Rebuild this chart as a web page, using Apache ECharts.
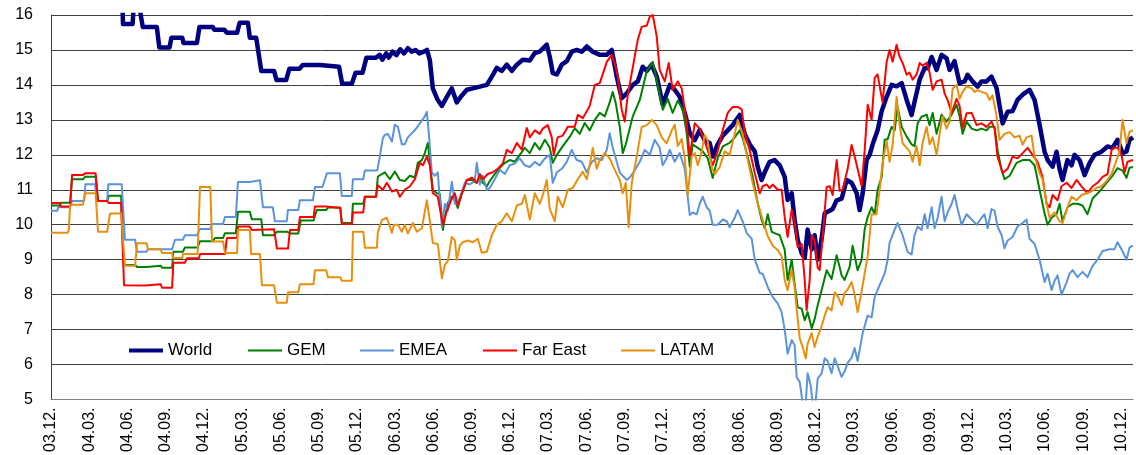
<!DOCTYPE html>
<html>
<head>
<meta http-equiv="content-type" content="text/html; charset=utf-8"/>
<title>World / GEM / EMEA / Far East / LATAM</title>
<style type="text/css">body,html{width:100%;height:100%;margin:0;background:#fff}#chart{width:1136px;height:455px}</style>
<script src="https://cdn.jsdelivr.net/npm/echarts@6/dist/echarts.min.js"></script>
<script>
	// x = months since Dec 2003, one tick label per quarter
	var tickLabels = ['03.12.','04.03.','04.06.','04.09.','04.12.','05.03.','05.06.','05.09.','05.12.',
		'06.03.','06.06.','06.09.','06.12.','07.03.','07.06.','07.09.','07.12.','08.03.','08.06.',
		'08.09.','08.12.','09.03.','09.06.','09.09.','09.12.','10.03.','10.06.','10.09.','10.12.'];

	var world = [[0,16.4],[5.6,16.4],[5.65,15.74],[6.4,15.74],[6.5,16.3],[6.9,16.3],[7.2,15.66],[8.3,15.66],[8.5,15.07],[9.3,15.07],
		[9.45,15.35],[10.3,15.35],[10.4,15.2],[11.45,15.2],[11.65,15.66],[12.7,15.66],[12.8,15.58],[13.6,15.58],[13.8,15.49],[14.6,15.49],
		[14.8,15.78],[15.45,15.78],[15.6,15.35],[16.1,15.35],[16.5,14.4],[17.5,14.4],[17.7,14.14],[18.45,14.14],[18.7,14.46],[19.5,14.46],
		[19.75,14.57],[21.1,14.57],[21.2,14.52],[22.6,14.52],[22.85,14.03],[23.6,14.03],[23.9,14.35],[24.45,14.35],[24.75,14.78],[25.5,14.78],
		[25.8,14.86],[26.0,14.72],[26.3,14.9],[26.5,14.78],[26.8,14.95],[27.1,14.85],[27.4,15.02],[27.7,14.9],[28.0,15.05],[28.3,14.95],
		[28.6,15.0],[28.9,14.9],[29.3,14.96],[29.5,15.0],[29.73,14.7],[29.96,13.9],[30.3,13.6],[30.67,13.4],[31.06,13.66],[31.45,13.9],
		[31.84,13.5],[32.24,13.7],[32.63,13.86],[33.1,13.9],[33.65,13.95],[34.2,14.0],[34.59,14.24],[34.98,14.49],[35.37,14.4],[35.76,14.58],
		[36.16,14.4],[36.55,14.58],[37.02,14.72],[37.57,14.7],[37.96,14.91],[38.35,14.95],[38.9,15.15],[39.14,14.8],[39.37,14.34],[39.69,14.3],
		[40.08,14.58],[40.47,14.68],[40.86,14.95],[41.25,15.0],[41.65,14.95],[42.04,15.1],[42.51,14.95],[43.06,14.86],[43.61,14.86],[44.0,15.0],
		[44.39,14.24],[44.78,13.62],[45.18,13.76],[45.65,14.0],[46.04,14.1],[46.43,14.52],[46.75,14.4],[47.14,14.58],[47.53,14.24],[48.0,13.43],
		[48.55,14.0],[48.94,13.86],[49.33,13.66],[49.73,13.2],[50.12,12.62],[50.51,12.42],[50.9,12.71],[51.29,12.42],[51.69,12.33],[51.92,11.95],
		[52.31,12.3],[52.71,12.55],[53.1,12.7],[53.49,12.85],[54.04,13.14],[54.43,12.6],[54.82,12.3],[55.22,12.1],[55.45,11.66],[55.76,11.28],
		[56.0,11.5],[56.39,11.8],[56.78,11.85],[57.18,11.7],[57.57,11.37],[57.8,10.71],[58.12,10.9],[58.35,10.14],[58.59,9.57],[58.9,9.19],
		[59.14,9.05],[59.37,9.86],[59.69,9.3],[59.92,9.7],[60.16,9.0],[60.47,9.6],[60.71,10.33],[61.1,10.4],[61.33,10.45],[61.65,10.7],
		[62.04,10.75],[62.43,11.28],[62.82,11.2],[63.22,10.9],[63.45,10.42],[63.69,10.9],[64.0,11.86],[64.24,12.0],[64.47,12.3],[64.86,12.7],
		[65.18,13.25],[65.57,13.66],[65.96,14.0],[66.35,13.96],[66.75,14.05],[67.14,13.57],[67.53,13.14],[67.76,13.52],[68.16,14.15],[68.55,14.48],
		[68.78,14.48],[69.1,14.8],[69.49,14.43],[69.88,14.86],[70.27,14.76],[70.51,14.43],[70.9,14.68],[71.29,14.05],[71.69,14.1],[71.92,14.29],
		[72.31,14.1],[72.71,13.95],[73.02,14.1],[73.41,14.1],[73.8,14.24],[74.2,13.9],[74.67,12.9],[75.06,13.23],[75.45,13.25],[75.84,13.57],
		[76.24,13.72],[76.55,13.8],[76.78,13.86],[77.18,13.57],[77.57,12.86],[77.96,12.09],[78.2,11.85],[78.59,11.66],[78.9,12.09],[79.14,11.6],
		[79.37,11.28],[79.76,11.85],[80.08,11.7],[80.31,12.0],[80.71,11.85],[81.1,11.42],[81.49,11.76],[81.88,12.0],[82.43,12.09],[82.9,12.24],
		[83.29,12.2],[83.69,12.43],[84.08,12.05],[84.39,12.1],[84.63,12.43],[84.9,12.5]];

	var gem = [[0,10.55],[0.7,10.55],[0.75,10.63],[1.5,10.63],[1.65,11.3],[2.5,11.3],[2.67,11.37],[3.5,11.37],[3.69,10.68],[4.4,10.68],
		[4.55,10.83],[5.5,10.83],[5.7,8.85],[6.6,8.85],[6.75,8.79],[7.5,8.79],[7.6,8.83],[8.6,8.83],[8.71,8.77],[9.5,8.77],
		[9.6,9.23],[10.35,9.23],[10.51,9.35],[11.5,9.35],[11.69,9.53],[12.7,9.53],[12.86,9.62],[13.5,9.62],[13.65,9.76],[14.5,9.76],
		[14.67,10.37],[15.6,10.37],[15.76,10.16],[16.5,10.16],[16.63,9.7],[17.5,9.7],[17.73,9.8],[18.5,9.8],[18.75,9.75],[19.4,9.75],
		[19.6,10.12],[20.6,10.12],[20.86,10.42],[21.6,10.42],[21.73,10.49],[22.7,10.49],[22.82,10.05],[23.6,10.05],[23.69,10.6],[24.5,10.6],
		[24.63,10.8],[25.5,10.8],[25.65,11.38],[26.2,11.5],[26.59,11.3],[26.98,11.52],[27.37,11.28],[27.76,11.25],[28.16,11.4],[28.55,11.35],
		[28.78,11.77],[29.1,11.85],[29.33,12.05],[29.57,12.34],[29.73,11.8],[29.96,11.0],[30.27,10.9],[30.51,10.88],[30.75,9.85],[30.9,10.2],
		[31.14,10.62],[31.45,10.8],[31.69,10.7],[31.92,10.48],[32.24,10.9],[32.63,11.28],[33.02,11.28],[33.41,11.2],[33.65,11.35],[33.88,11.2],
		[34.2,11.1],[34.43,11.25],[34.82,11.45],[35.22,11.63],[35.61,11.77],[36.0,11.85],[36.39,11.8],[36.78,12.0],[37.18,12.2],[37.57,12.05],
		[37.96,12.34],[38.35,12.15],[38.75,12.43],[39.14,12.2],[39.37,11.77],[39.69,12.0],[40.16,12.25],[40.71,12.52],[41.1,12.76],[41.49,12.6],
		[41.88,12.91],[42.27,12.7],[42.67,13.0],[43.06,13.2],[43.45,13.1],[43.84,13.5],[44.08,13.8],[44.3,13.5],[44.63,12.8],[44.86,12.05],
		[45.1,12.3],[45.65,13.1],[46.2,13.57],[46.75,14.4],[47.22,14.66],[47.61,14.0],[48.0,13.29],[48.39,13.6],[48.78,13.2],[49.18,13.55],
		[49.57,13.3],[49.88,12.62],[50.12,11.66],[50.35,12.3],[50.75,12.2],[51.14,12.1],[51.53,11.9],[51.92,11.34],[52.31,11.9],[52.71,12.24],
		[53.25,12.34],[53.65,12.5],[54.04,12.7],[54.27,12.48],[54.67,11.94],[55.06,11.37],[55.45,10.62],[55.76,10.14],[56.0,9.9],[56.24,10.3],
		[56.55,9.8],[56.78,9.76],[57.18,9.7],[57.57,9.28],[57.8,8.42],[58.12,9.0],[58.35,8.3],[58.59,7.64],[58.9,7.6],[59.14,7.27],
		[59.37,7.5],[59.69,7.04],[59.92,7.3],[60.16,7.7],[60.47,8.13],[60.86,8.7],[61.25,8.45],[61.65,9.13],[62.04,8.55],[62.27,8.42],
		[62.67,8.8],[62.9,9.4],[63.29,8.7],[63.61,9.0],[63.84,9.86],[64.08,10.22],[64.39,10.5],[64.63,10.3],[64.86,11.0],[65.18,11.37],
		[65.41,12.43],[65.65,12.45],[65.96,12.8],[66.2,12.7],[66.43,13.37],[66.75,12.8],[67.14,12.52],[67.53,12.3],[67.76,12.25],[68.0,12.9],
		[68.31,13.09],[68.71,13.15],[68.94,12.85],[69.18,13.2],[69.49,12.6],[69.88,13.15],[70.27,12.95],[70.67,13.15],[71.06,13.43],[71.29,13.1],
		[71.53,12.6],[71.84,12.95],[72.24,12.75],[72.63,12.7],[73.02,12.75],[73.41,12.7],[73.65,12.8],[74.04,12.8],[74.27,12.14],[74.59,11.57],
		[74.82,11.3],[75.22,11.4],[75.76,11.77],[76.24,11.85],[76.78,11.85],[77.18,11.7],[77.57,11.0],[77.96,10.33],[78.2,10.0],[78.51,10.2],
		[78.9,10.3],[79.14,10.6],[79.37,10.1],[79.76,10.5],[80.16,10.6],[80.55,10.6],[80.94,10.55],[81.33,10.3],[81.73,10.75],[82.27,10.95],
		[82.82,11.2],[83.29,11.4],[83.69,11.62],[84.08,11.55],[84.39,11.34],[84.63,11.63],[84.9,11.65]];

	var emea = [[0,10.4],[0.5,10.4],[0.55,10.5],[1.5,10.5],[1.65,10.68],[2.6,10.68],[2.7,11.16],[3.45,11.16],[3.6,10.68],[4.4,10.68],
		[4.5,11.16],[5.55,11.16],[5.8,9.57],[6.6,9.57],[6.75,9.23],[7.5,9.23],[7.6,9.3],[9.5,9.3],[9.73,9.57],[10.35,9.57],
		[10.51,9.7],[11.45,9.7],[11.69,9.88],[12.5,9.88],[12.63,10.02],[13.5,10.02],[13.65,10.22],[14.5,10.22],[14.67,11.22],[15.6,11.22],
		[15.7,11.27],[16.4,11.27],[16.63,10.5],[17.4,10.5],[17.57,10.1],[18.5,10.1],[18.59,10.42],[19.4,10.42],[19.53,10.7],[20.55,10.7],
		[20.71,11.08],[21.3,11.08],[21.65,11.47],[22.67,11.47],[22.82,10.82],[23.6,10.82],[23.69,11.3],[24.5,11.3],[24.63,11.55],[25.6,11.55],
		[25.8,11.95],[26.04,12.48],[26.2,12.57],[26.43,12.6],[26.75,12.38],[26.98,12.86],[27.22,12.8],[27.53,12.3],[27.76,12.3],[28.0,12.5],
		[28.31,12.62],[28.55,12.7],[28.94,12.9],[29.33,13.1],[29.49,13.23],[29.65,12.6],[29.88,11.5],[30.12,11.4],[30.35,11.5],[30.67,9.93],
		[30.9,10.6],[31.14,10.4],[31.45,11.23],[31.69,10.6],[31.92,10.6],[32.24,10.95],[32.47,11.2],[32.86,11.15],[33.25,11.25],[33.41,11.77],
		[33.65,11.15],[33.88,11.4],[34.2,11.0],[34.43,11.05],[34.82,11.3],[35.22,11.57],[35.61,11.45],[36.0,11.7],[36.39,11.75],[36.78,11.9],
		[37.18,11.7],[37.57,11.65],[37.96,11.8],[38.35,11.7],[38.75,11.9],[39.14,12.0],[39.37,11.2],[39.69,11.5],[40.08,11.6],[40.47,11.8],
		[40.86,12.14],[41.25,11.85],[41.65,11.8],[42.04,11.5],[42.43,11.8],[42.82,11.9],[43.22,11.85],[43.61,12.14],[43.84,12.62],[44.08,12.2],
		[44.39,11.8],[44.63,11.5],[44.86,11.4],[45.18,11.28],[45.41,11.35],[45.8,11.55],[46.2,11.8],[46.59,12.14],[46.98,12.0],[47.37,12.43],
		[47.76,12.2],[48.0,11.7],[48.31,11.9],[48.55,12.14],[48.94,11.8],[49.33,12.05],[49.73,11.6],[49.96,10.8],[50.12,10.28],[50.35,10.35],
		[50.67,10.3],[50.9,10.6],[51.14,10.8],[51.45,10.5],[51.69,10.4],[51.92,10.0],[52.31,10.0],[52.71,10.15],[53.02,10.1],[53.25,9.93],
		[53.65,10.2],[53.88,10.42],[54.27,10.1],[54.59,9.76],[54.98,9.6],[55.22,9.0],[55.61,8.62],[55.84,8.6],[56.24,8.22],[56.63,7.93],
		[57.02,7.75],[57.33,7.5],[57.57,7.0],[57.8,6.31],[58.12,6.7],[58.35,6.55],[58.51,5.64],[58.75,5.5],[58.98,4.9],[59.22,4.9],
		[59.37,5.75],[59.61,5.4],[59.76,4.9],[60.0,4.95],[60.16,5.6],[60.47,5.75],[60.71,6.18],[60.94,6.1],[61.25,5.75],[61.49,6.18],
		[61.73,5.95],[62.04,5.65],[62.27,5.8],[62.51,6.05],[62.82,6.2],[63.06,6.47],[63.29,6.1],[63.69,6.9],[64.08,7.4],[64.39,7.35],
		[64.63,7.93],[65.02,8.27],[65.41,8.6],[65.65,9.0],[65.8,9.48],[66.2,9.86],[66.43,10.05],[66.82,9.7],[67.22,9.22],[67.53,9.15],
		[67.76,9.7],[68.0,9.95],[68.31,9.85],[68.55,10.3],[68.78,9.9],[69.1,10.5],[69.33,9.9],[69.57,10.2],[69.88,10.8],[70.12,10.1],
		[70.35,10.35],[70.67,10.6],[70.9,10.85],[71.14,10.45],[71.45,10.0],[71.84,10.3],[72.24,10.15],[72.63,10.0],[73.02,10.2],[73.25,10.3],
		[73.49,9.9],[73.8,10.45],[74.04,10.4],[74.27,9.95],[74.59,9.7],[74.82,9.33],[75.06,9.55],[75.45,9.65],[75.84,9.95],[76.24,10.05],
		[76.55,10.15],[76.78,9.6],[77.18,9.45],[77.57,9.0],[77.96,8.36],[78.2,8.6],[78.51,8.13],[78.75,8.4],[78.98,8.55],[79.29,8.0],
		[79.69,8.35],[79.92,8.6],[80.16,8.7],[80.55,8.5],[80.94,8.65],[81.33,8.5],[81.73,8.82],[82.12,9.0],[82.51,9.25],[83.06,9.3],
		[83.45,9.3],[83.69,9.5],[84.0,9.3],[84.39,9.0],[84.63,9.35],[84.9,9.4]];

	var farEast = [[0,10.62],[0.7,10.62],[0.75,10.52],[1.5,10.52],[1.65,11.42],[2.5,11.42],[2.67,11.47],[3.5,11.47],[3.69,10.68],[4.4,10.68],
		[4.55,10.62],[5.5,10.62],[5.73,8.27],[7.4,8.26],[7.55,8.3],[8.6,8.3],[8.71,8.2],[9.5,8.2],[9.6,8.91],[10.5,8.91],
		[10.67,9.04],[11.6,9.04],[11.7,9.16],[13.65,9.16],[13.8,9.62],[14.6,9.62],[14.67,9.95],[15.6,9.95],[15.76,9.85],[17.5,9.87],
		[17.73,9.32],[18.6,9.32],[18.75,9.85],[19.4,9.85],[19.53,10.22],[20.6,10.22],[20.71,10.52],[21.6,10.52],[21.73,10.48],[22.7,10.48],
		[22.82,10.02],[23.6,10.02],[23.69,10.35],[24.5,10.35],[24.63,10.8],[25.5,10.8],[25.65,11.13],[26.04,11.0],[26.35,11.2],[26.75,10.95],
		[27.14,11.0],[27.37,10.8],[27.76,11.0],[28.16,11.1],[28.55,11.3],[28.94,11.77],[29.18,11.7],[29.49,11.95],[29.73,11.7],[29.96,10.9],
		[30.35,10.8],[30.75,10.0],[31.06,10.4],[31.45,10.75],[31.69,10.9],[31.92,10.55],[32.24,10.9],[32.63,11.28],[33.02,11.35],[33.41,11.2],
		[33.65,11.45],[33.88,11.3],[34.27,11.45],[34.67,11.5],[35.06,11.6],[35.45,11.75],[35.76,12.14],[36.16,12.05],[36.55,12.34],[36.94,12.15],
		[37.33,12.77],[37.57,12.5],[37.96,12.7],[38.35,12.6],[38.59,12.75],[38.98,12.85],[39.29,12.5],[39.45,12.0],[39.76,12.5],[40.16,12.55],
		[40.55,12.8],[41.1,12.8],[41.33,13.14],[41.73,13.05],[42.27,13.4],[42.67,14.0],[43.06,14.05],[43.61,14.66],[44.0,14.86],[44.24,14.6],
		[44.47,14.24],[44.78,13.29],[45.02,12.95],[45.25,13.7],[45.65,14.5],[46.04,15.29],[46.35,15.66],[46.75,15.7],[46.98,15.95],[47.22,16.0],
		[47.53,15.38],[47.76,14.43],[48.16,14.1],[48.47,14.63],[48.78,13.86],[49.18,14.1],[49.49,13.9],[49.88,12.9],[50.12,11.95],[50.51,12.9],
		[50.9,12.75],[51.29,12.4],[51.69,11.95],[51.92,11.7],[52.31,12.1],[52.71,12.71],[53.1,13.2],[53.49,13.37],[53.88,13.37],[54.2,13.3],
		[54.43,12.62],[54.82,12.14],[55.22,11.48],[55.61,10.9],[55.84,11.1],[56.16,11.15],[56.39,11.05],[56.63,11.15],[57.02,11.0],[57.33,11.0],
		[57.57,10.22],[57.8,9.65],[58.12,10.43],[58.35,10.1],[58.59,9.36],[58.9,9.45],[59.14,8.42],[59.29,7.56],[59.53,8.42],[59.69,9.7],
		[59.92,9.55],[60.16,8.77],[60.31,8.7],[60.55,9.65],[60.86,11.08],[61.1,11.1],[61.33,10.85],[61.65,11.85],[61.88,10.97],[62.12,11.0],
		[62.51,11.6],[62.82,12.28],[63.06,11.95],[63.29,11.6],[63.61,11.1],[63.84,12.1],[64.08,13.43],[64.39,13.0],[64.63,14.2],[64.86,14.3],
		[65.25,13.5],[65.57,14.66],[65.8,15.0],[66.04,14.66],[66.35,15.15],[66.59,14.8],[66.82,14.63],[67.14,14.29],[67.37,14.35],[67.61,14.15],
		[67.92,14.3],[68.16,14.63],[68.39,14.55],[68.71,14.63],[68.94,14.35],[69.18,13.86],[69.49,14.1],[69.88,14.15],[70.12,13.75],[70.35,13.57],
		[70.67,13.2],[71.06,13.6],[71.29,13.4],[71.53,12.77],[71.84,13.19],[72.24,13.2],[72.63,12.85],[73.02,12.9],[73.41,12.8],[73.8,12.95],
		[74.04,12.75],[74.27,11.95],[74.67,11.48],[75.06,11.6],[75.45,11.95],[75.84,11.9],[76.24,12.05],[76.63,12.2],[77.02,12.0],[77.41,11.8],
		[77.8,11.37],[78.12,10.6],[78.35,10.5],[78.59,10.85],[78.98,10.7],[79.29,11.1],[79.69,11.2],[80.08,11.05],[80.47,11.28],[80.86,11.1],
		[81.33,10.9],[81.73,11.1],[82.12,11.2],[82.51,11.37],[82.9,11.45],[83.22,12.14],[83.45,12.2],[83.69,12.2],[84.0,12.0],[84.24,11.5],
		[84.47,11.8],[84.9,11.85]];

	var latam = [[0,9.77],[1.3,9.77],[1.4,9.85],[1.5,10.57],[2.5,10.57],[2.67,10.9],[3.5,10.9],[3.69,9.8],[4.4,9.8],[4.63,10.32],
		[5.5,10.32],[5.8,8.83],[6.6,8.83],[6.75,9.47],[7.5,9.47],[7.61,9.3],[8.6,9.3],[8.71,9.19],[9.5,9.19],[9.57,9.05],
		[10.3,9.05],[10.35,9.16],[11.5,9.16],[11.69,11.08],[12.5,11.08],[12.63,9.52],[13.5,9.52],[13.65,9.19],[14.6,9.19],[14.67,9.85],
		[15.6,9.85],[15.7,9.16],[16.4,9.16],[16.55,8.27],[17.5,8.27],[17.73,7.77],[18.5,7.77],[18.6,8.07],[19.4,8.07],[19.53,8.3],
		[20.6,8.3],[20.71,8.7],[21.6,8.7],[21.73,8.5],[22.7,8.5],[22.82,8.4],[23.6,8.4],[23.69,9.8],[24.5,9.8],[24.63,9.34],
		[25.57,9.34],[25.65,9.8],[25.96,10.13],[26.35,10.2],[26.59,9.95],[26.75,9.77],[26.9,10.0],[27.22,10.0],[27.53,9.8],[27.76,10.0],
		[28.0,9.75],[28.39,10.05],[28.71,9.8],[29.1,9.9],[29.49,10.7],[29.73,10.1],[29.96,9.48],[30.35,9.45],[30.67,8.47],[30.9,8.85],
		[31.14,8.96],[31.45,9.65],[31.69,9.55],[31.84,9.0],[32.08,9.4],[32.31,9.5],[32.71,9.55],[33.1,9.5],[33.49,9.6],[33.8,9.2],
		[34.2,9.23],[34.59,9.7],[34.98,10.0],[35.37,10.1],[35.76,10.33],[36.16,10.1],[36.55,10.55],[36.94,10.6],[37.18,10.85],[37.57,10.15],
		[37.96,10.9],[38.35,10.6],[38.59,10.85],[38.9,11.28],[39.14,10.45],[39.53,10.1],[39.76,10.8],[40.16,10.5],[40.55,11.0],[40.94,11.05],
		[41.33,11.3],[41.73,11.52],[42.04,11.3],[42.27,11.72],[42.51,12.2],[42.82,11.6],[43.06,11.85],[43.45,12.05],[43.84,11.9],[44.24,11.57],
		[44.63,11.28],[44.86,10.9],[45.1,11.2],[45.33,9.93],[45.57,11.2],[45.96,11.95],[46.35,12.8],[46.75,12.85],[47.14,13.0],[47.53,12.85],
		[47.92,12.5],[48.31,12.33],[48.71,12.7],[48.94,12.86],[49.18,12.25],[49.49,12.45],[49.73,11.9],[49.96,10.85],[50.27,11.95],[50.51,12.05],
		[50.75,11.7],[51.06,12.1],[51.29,12.57],[51.53,12.4],[51.84,11.65],[52.08,11.45],[52.47,11.65],[52.86,12.1],[53.25,12.0],[53.65,12.6],
		[53.88,13.0],[54.27,12.6],[54.67,11.86],[55.06,11.19],[55.45,10.62],[55.84,10.14],[56.24,9.67],[56.63,9.4],[57.02,9.28],[57.33,9.1],
		[57.57,8.42],[57.8,8.13],[58.12,8.7],[58.35,8.2],[58.51,7.6],[58.75,6.75],[58.98,6.5],[59.22,6.18],[59.37,6.6],[59.69,6.9],
		[59.92,6.5],[60.16,6.8],[60.47,7.1],[60.71,7.4],[60.94,7.64],[61.25,7.55],[61.49,8.07],[61.73,7.95],[62.04,7.7],[62.27,8.05],
		[62.51,8.15],[62.82,8.36],[63.06,8.0],[63.29,7.5],[63.61,8.1],[63.84,8.6],[64.08,9.1],[64.39,10.3],[64.78,10.3],[65.02,11.0],
		[65.25,11.77],[65.57,12.4],[65.8,11.8],[66.04,12.3],[66.35,13.66],[66.59,12.85],[66.82,12.33],[67.14,12.2],[67.37,12.1],[67.61,11.8],
		[67.92,12.25],[68.16,11.7],[68.39,12.35],[68.71,12.8],[68.94,12.3],[69.18,12.5],[69.49,12.0],[69.73,12.6],[69.96,13.1],[70.27,12.75],
		[70.51,12.95],[70.75,13.9],[71.06,14.0],[71.29,13.6],[71.53,13.8],[71.84,13.96],[72.24,13.9],[72.47,13.8],[72.71,13.85],[73.02,13.8],
		[73.41,13.75],[73.65,13.57],[73.88,13.7],[74.2,13.1],[74.43,12.43],[74.82,12.6],[75.22,12.65],[75.61,12.5],[76.0,12.55],[76.24,12.29],
		[76.55,12.5],[76.94,12.55],[77.18,11.95],[77.57,11.48],[77.8,11.3],[78.12,10.6],[78.35,10.2],[78.75,10.35],[79.14,10.1],[79.37,10.05],
		[79.76,10.5],[80.08,10.8],[80.47,10.7],[80.86,10.85],[81.25,10.9],[81.65,10.95],[82.04,11.05],[82.43,11.1],[82.82,11.25],[83.22,11.45],
		[83.61,11.85],[83.84,12.1],[84.08,13.0],[84.39,12.33],[84.63,12.66],[84.9,12.7]];

	var seriesNames = ['World', 'GEM', 'EMEA', 'Far East', 'LATAM'];
	var seriesData = [world, gem, emea, farEast, latam];
	var seriesColors = ['#000080', '#008000', '#5B94DA', '#FF0000', '#E8900E'];
	var seriesWidths = [4.5, 2, 2, 2, 2];
	var legendLeft = [129, 248, 360, 483, 621];

	function onLoad()
	{
		var chart = echarts.init(document.getElementById('chart'), null, {renderer: 'canvas'});
		var font = 'Liberation Sans';
		var series = [];
		var legends = [];
		for (var i = 0; i < seriesNames.length; i++) {
			series.push({
				name: seriesNames[i],
				type: 'line',
				data: seriesData[i],
				symbol: 'none',
				clip: true,
				lineStyle: {color: seriesColors[i], width: seriesWidths[i], join: 'round'},
				itemStyle: {color: seriesColors[i]}
			});
			//one legend per item so each sits where it does in the original, icon drawn as a flat bar
			legends.push({
				data: [seriesNames[i]],
				left: legendLeft[i],
				top: 342,
				padding: 0,
				icon: 'rect',
				itemWidth: 34,
				itemHeight: seriesWidths[i] === 2 ? 2 : 4,
				itemGap: 0,
				textStyle: {fontFamily: font, fontSize: 17, color: '#000'}
			});
		}
		var option = {
			animation: false,
			backgroundColor: '#fff',
			grid: {left: 51, right: 3, top: 15, bottom: 55},
			legend: legends,
			xAxis: {
				type: 'value',
				min: 0,
				max: 84.9,
				interval: 3,
				axisLine: {show: true, onZero: false, lineStyle: {color: '#808080', width: 1}},
				axisTick: {show: false},
				splitLine: {show: false},
				axisLabel: {
					rotate: 90,
					margin: 8,
					fontFamily: font,
					fontSize: 16,
					color: '#000',
					showMaxLabel: false,
					formatter: function (v) {
						var q = v / 3;
						if (Math.abs(q - Math.round(q)) > 1e-6) return '';
						return tickLabels[Math.round(q)] || '';
					}
				}
			},
			yAxis: {
				type: 'value',
				min: 5,
				max: 16,
				interval: 1,
				axisLine: {show: true, lineStyle: {color: '#404040', width: 1}},
				axisTick: {show: false},
				splitLine: {show: true, lineStyle: {color: '#404040', width: 1}},
				axisLabel: {margin: 18, fontFamily: font, fontSize: 16, color: '#000'}
			},
			series: series
		};
		chart.setOption(option);
	}
</script>
</head>
<body onLoad="onLoad()">
	<div id="chart"></div>
</body>
</html>
